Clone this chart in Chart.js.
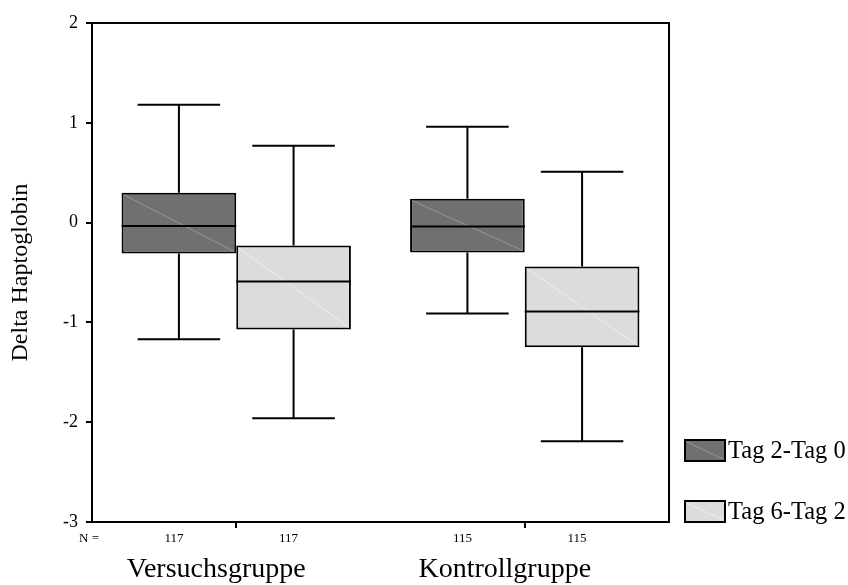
<!DOCTYPE html>
<html><head><meta charset="utf-8">
<script src="https://cdn.jsdelivr.net/npm/chart.js@4/dist/chart.umd.min.js"></script>
<style>html,body{margin:0;padding:0;background:#fff;overflow:hidden}#wrap{width:848px;height:585px}</style>
</head><body><div id="wrap"><canvas id="c" width="848" height="585"></canvas></div>
<script>
// ---- data ----
const categories = ['Versuchsgruppe', 'Kontrollgruppe'];
const seriesNames = ['Tag 2-Tag 0', 'Tag 6-Tag 2'];
// series 1: Tag 2-Tag 0
const low1 = [-1.17, -0.91];
const q1s1 = [-0.31, -0.30];
const med1 = [-0.035, -0.04];
const q3s1 = [0.30, 0.24];
const high1 = [1.18, 0.96];
const n1 = [117, 115];
// series 2: Tag 6-Tag 2
const low2 = [-1.96, -2.19];
const q1s2 = [-1.07, -1.25];
const med2 = [-0.59, -0.89];
const q3s2 = [-0.23, -0.44];
const high2 = [0.77, 0.51];
const n2 = [117, 115];
const yMin = -3, yMax = 2, yStep = 1;

const SERIF = "'Liberation Serif','Times New Roman',serif";

function makeDs(label, color, diagColor, lo, q1, med, q3, hi, n) {
  return {
    label, backgroundColor: color, borderColor: '#000', borderWidth: 2, borderSkipped: false,
    data: q1.map((v, i) => [v, q3[i]]),
    stats: { lo, med, hi, n }, diagColor,
    categoryPercentage: 0.795, barPercentage: 1.0
  };
}

const boxPlugin = {
  id: 'boxWhiskers',
  afterDatasetsDraw(chart) {
    const ctx = chart.ctx, y = chart.scales.y;
    chart.data.datasets.forEach((ds, di) => {
      const meta = chart.getDatasetMeta(di);
      meta.data.forEach((bar, i) => {
        const p = bar.getProps(['x', 'y', 'base', 'width'], true);
        const L = p.x - p.width / 2, R = p.x + p.width / 2;
        const top = Math.min(p.y, p.base), bot = Math.max(p.y, p.base);
        ctx.save();
        // diagonal artefact line
        ctx.strokeStyle = ds.diagColor; ctx.lineWidth = 1;
        ctx.beginPath(); ctx.moveTo(L + 2, top + 2); ctx.lineTo(R - 2, bot - 2); ctx.stroke();
        ctx.strokeStyle = '#000'; ctx.lineWidth = 2;
        const hiY = y.getPixelForValue(ds.stats.hi[i]);
        const loY = y.getPixelForValue(ds.stats.lo[i]);
        const mdY = y.getPixelForValue(ds.stats.med[i]);
        const capHalf = p.width * 0.36;
        ctx.beginPath();
        ctx.moveTo(p.x, top); ctx.lineTo(p.x, hiY);
        ctx.moveTo(p.x - capHalf, hiY); ctx.lineTo(p.x + capHalf, hiY);
        ctx.moveTo(p.x, bot); ctx.lineTo(p.x, loY);
        ctx.moveTo(p.x - capHalf, loY); ctx.lineTo(p.x + capHalf, loY);
        ctx.moveTo(L, mdY); ctx.lineTo(R, mdY);
        ctx.stroke();
        ctx.restore();
      });
    });
  },
  afterDraw(chart) {
    const ctx = chart.ctx, ca = chart.chartArea;
    ctx.save();
    // frame
    ctx.strokeStyle = '#000'; ctx.lineWidth = 2;
    ctx.strokeRect(ca.left, ca.top, ca.right - ca.left, ca.bottom - ca.top);
    // N labels
    ctx.fillStyle = '#000';
    ctx.font = '13px ' + SERIF;
    ctx.textAlign = 'center'; ctx.textBaseline = 'middle';
    const nY = ca.bottom + 17;
    ctx.fillText('N =', ca.left - 3, nY);
    chart.data.datasets.forEach((ds, di) => {
      chart.getDatasetMeta(di).data.forEach((bar, i) => {
        ctx.fillText(String(ds.stats.n[i]), bar.x - 5, nY);
      });
    });
    // legend
    const bw = 40, bh = 21, gap = 61;
    const lx = ca.right + 16;
    const n = chart.data.datasets.length;
    ctx.font = '24.5px ' + SERIF;
    ctx.textAlign = 'left';
    chart.data.datasets.forEach((ds, di) => {
      const by = ca.bottom - bh - (n - 1 - di) * gap;
      ctx.fillStyle = ds.backgroundColor;
      ctx.fillRect(lx, by, bw, bh);
      ctx.strokeStyle = ds.diagColor; ctx.lineWidth = 1;
      ctx.beginPath(); ctx.moveTo(lx + 2, by + 2); ctx.lineTo(lx + bw - 2, by + bh - 2); ctx.stroke();
      ctx.strokeStyle = '#000'; ctx.lineWidth = 2;
      ctx.strokeRect(lx, by, bw, bh);
      ctx.fillStyle = '#000';
      ctx.fillText(ds.label, lx + bw + 3, by + bh / 2 + 1);
    });
    ctx.restore();
  }
};

new Chart(document.getElementById('c'), {
  type: 'bar',
  data: {
    labels: categories,
    datasets: [
      makeDs(seriesNames[0], '#707070', 'rgba(150,150,150,1)', low1, q1s1, med1, q3s1, high1, n1),
      makeDs(seriesNames[1], '#dcdcdc', 'rgba(238,238,238,1)', low2, q1s2, med2, q3s2, high2, n2)
    ]
  },
  options: {
    responsive: false, animation: false, devicePixelRatio: 1,
    layout: { padding: { left: 0, top: 23, right: 179, bottom: 0 } },
    plugins: { legend: { display: false }, tooltip: { enabled: false } },
    scales: {
      x: {
        type: 'category', offset: true,
        grid: { drawOnChartArea: false, drawTicks: true, tickLength: 6, offset: false, color: '#000', lineWidth: 2 },
        border: { display: true, color: '#000', width: 2 },
        ticks: { color: '#000', font: { family: SERIF, size: 28 }, padding: 25, labelOffset: -20, maxRotation: 0 },
        afterFit(s) { s.height = 63; }
      },
      y: {
        min: yMin, max: yMax,
        grid: { drawOnChartArea: false, drawTicks: true, tickLength: 6, color: '#000', lineWidth: 2 },
        border: { display: true, color: '#000', width: 2 },
        ticks: { stepSize: yStep, color: '#000', font: { family: SERIF, size: 18 }, padding: 8 },
        title: { display: true, text: 'Delta Haptoglobin', color: '#000', font: { family: SERIF, size: 24 }, padding: { top: 6, bottom: 0 } },
        afterFit(s) { s.width = 92; }
      }
    }
  },
  plugins: [boxPlugin]
});
</script></body></html>
